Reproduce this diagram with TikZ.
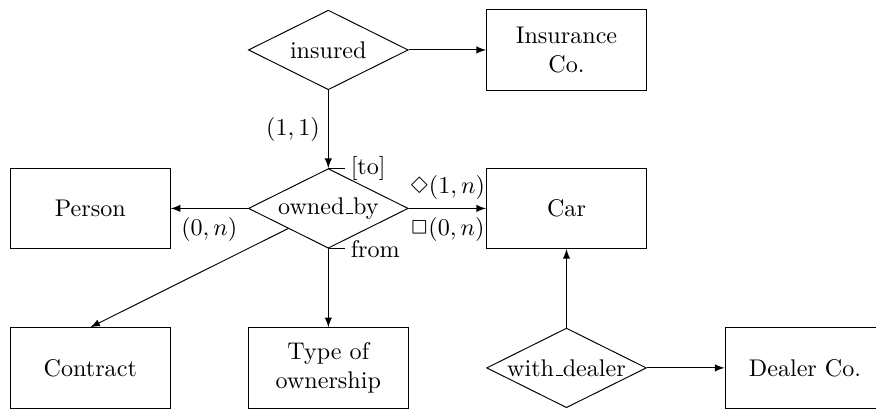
\documentclass[tikz,border=0pt]{standalone}
\usepackage{latexsym}
\usetikzlibrary{shapes.geometric}
\newcommand{\usc}{\leavevmode\kern.06em\vbox{\hrule width .3em}}
\begin{document}
\begin{tikzpicture}[link/.style={>=latex},ent/.style={rectangle,draw=black,minimum width=2.33cm,minimum height=1.17cm,align=center,thin},rel/.style={diamond,draw=black,aspect=2,inner sep=0pt,minimum width=2.33cm,minimum height=1.16cm,thin}]
        \useasboundingbox (0,0) rectangle (12.77,5.99);
        \node[rel] (insured) at (4.786,5.262) {insured};
        \node[ent] (insco) at (8.258,5.262) {Insurance\\Co.};
        \node[ent] (person) at (1.316,2.952) {Person};
        \node[rel] (owned_by) at (4.786,2.952) {owned\usc by};
        \node[ent] (car) at (8.258,2.952) {Car};
        \node[ent] (contract) at (1.316,0.627) {Contract};
        \node[ent] (type) at (4.786,0.627) {Type of\\ownership};
        \node[rel] (with_dealer) at (8.258,0.627) {with\usc dealer};
        \node[ent] (dealer) at (11.735,0.627) {Dealer Co.};
        \draw [link,->] (insured.east) -- (insco.west);
        \draw [link,->] (insured.south) -- (owned_by.north) node[midway,left] {$(1,1)$};
        \draw (owned_by.north) -- ++(0.25,0) node[right,inner sep=2pt] (to) {[to]};
        \draw (owned_by.south) -- ++(0.25,0) node[right,inner sep=2pt] (from) {from};
        \draw [link,->] (owned_by.west) -- (person.east) node[midway,below] {$(0,n)$};
        \draw [link,->] (owned_by.east) -- (car.west) node[midway,above] {$\Diamond(1,n)$} node[midway,below] {$\Box(0,n)$};
        \draw [link,->] (owned_by.south west) -- (contract.north);
        \draw [link,->] (owned_by.south) -- (type.north);
        \draw [link,->] (with_dealer.north) -- (car.south);
        \draw [link,->] (with_dealer.east) -- (dealer.west);
    \end{tikzpicture}
\end{document}
